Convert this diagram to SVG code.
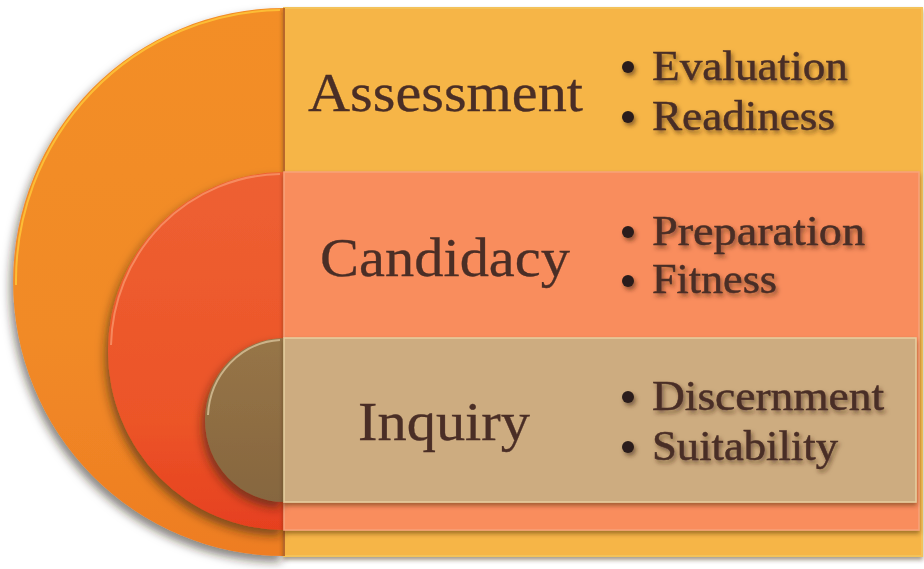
<svg xmlns="http://www.w3.org/2000/svg" width="924" height="569" viewBox="0 0 924 569">
<defs>
<linearGradient id="gBig" x1="0" y1="0" x2="0" y2="1">
<stop offset="0" stop-color="#F38E26"/><stop offset="0.6" stop-color="#F18A27"/><stop offset="1" stop-color="#EE7D22"/>
</linearGradient>
<linearGradient id="gMid" x1="0" y1="0" x2="0" y2="1">
<stop offset="0" stop-color="#EE6032"/><stop offset="0.7" stop-color="#EC5428"/><stop offset="1" stop-color="#E6401F"/>
</linearGradient>
<linearGradient id="gSmall" x1="0" y1="0" x2="0" y2="1">
<stop offset="0" stop-color="#977547"/><stop offset="1" stop-color="#86663F"/>
</linearGradient>
<filter id="shadow" x="-20%" y="-20%" width="140%" height="140%">
<feDropShadow dx="-3" dy="6" stdDeviation="5" flood-color="#2a1a10" flood-opacity="0.55"/>
</filter>
<filter id="rshadow" x="-5%" y="-10%" width="110%" height="130%">
<feDropShadow dx="0" dy="3" stdDeviation="2" flood-color="#3a2410" flood-opacity="0.45"/>
</filter>
<filter id="tshadow" x="-10%" y="-30%" width="120%" height="160%">
<feDropShadow dx="2" dy="3" stdDeviation="2" flood-color="#3a2010" flood-opacity="0.55"/>
</filter>
</defs>
<style>
.title{font-family:"Liberation Serif","DejaVu Serif",serif;font-size:55px;fill:#4A2E26;stroke:#4A2E26;stroke-width:0.3}
.item{font-family:"Liberation Serif","DejaVu Serif",serif;font-size:43px;fill:#4A2E26;stroke:#4A2E26;stroke-width:0.5}
.bul{fill:#2A1E1A}
.rim{fill:none;stroke-width:2}
</style>
<rect width="924" height="569" fill="#FFFFFF"/>
<g id="assessment">
<path d="M284,8 A271,274 0 0 0 284,556 Z" fill="url(#gBig)" filter="url(#shadow)"/>
<path d="M280,10 A268,271 0 0 0 16,285" class="rim" stroke="#FFC93A" stroke-opacity="0.8"/>
<rect x="284" y="8" width="638" height="548" fill="#F6B547" stroke="#F3C25A" stroke-width="2" filter="url(#rshadow)"/>
<line x1="284" y1="8" x2="284" y2="556" stroke="#B8672A" stroke-width="2"/>
<text class="title" x="308" y="111" textLength="275" lengthAdjust="spacingAndGlyphs">Assessment</text>
<g filter="url(#tshadow)">
<circle class="bul" cx="628" cy="67" r="6"/>
<circle class="bul" cx="628" cy="117" r="6"/>
<text class="item" x="652" y="80" textLength="196" lengthAdjust="spacingAndGlyphs">Evaluation</text>
<text class="item" x="652" y="130" textLength="183" lengthAdjust="spacingAndGlyphs">Readiness</text>
</g>
</g>
<g id="candidacy">
<path d="M284,172 A176,179 0 0 0 284,530 Z" fill="url(#gMid)" filter="url(#shadow)"/>
<path d="M280,174 A172,175 0 0 0 111,345" class="rim" stroke="#F8956A" stroke-opacity="0.8"/>
<rect x="284" y="172" width="635" height="358" fill="#F98D5D" stroke="#F7A27A" stroke-width="1.5" filter="url(#rshadow)"/>
<text class="title" x="320" y="276" textLength="250" lengthAdjust="spacingAndGlyphs">Candidacy</text>
<g filter="url(#tshadow)">
<circle class="bul" cx="628" cy="232" r="6"/>
<circle class="bul" cx="628" cy="281" r="6"/>
<text class="item" x="652" y="245" textLength="213" lengthAdjust="spacingAndGlyphs">Preparation</text>
<text class="item" x="652" y="293" textLength="125" lengthAdjust="spacingAndGlyphs">Fitness</text>
</g>
</g>
<g id="inquiry">
<path d="M284,338 A79,82 0 0 0 284,502 Z" fill="url(#gSmall)" filter="url(#shadow)"/>
<path d="M280,340 A76,79 0 0 0 208,415" class="rim" stroke="#D8C39A" stroke-opacity="0.8"/>
<rect x="284" y="338" width="632" height="164" fill="#CDAC80" stroke="#E6CFA0" stroke-width="1.5" filter="url(#rshadow)"/>
<text class="title" x="358" y="440" textLength="172" lengthAdjust="spacingAndGlyphs">Inquiry</text>
<g filter="url(#tshadow)">
<circle class="bul" cx="628" cy="397" r="6"/>
<circle class="bul" cx="628" cy="447" r="6"/>
<text class="item" x="652" y="410" textLength="232" lengthAdjust="spacingAndGlyphs">Discernment</text>
<text class="item" x="652" y="460" textLength="186" lengthAdjust="spacingAndGlyphs">Suitability</text>
</g>
</g>
<g id="connectors"/>
</svg>
